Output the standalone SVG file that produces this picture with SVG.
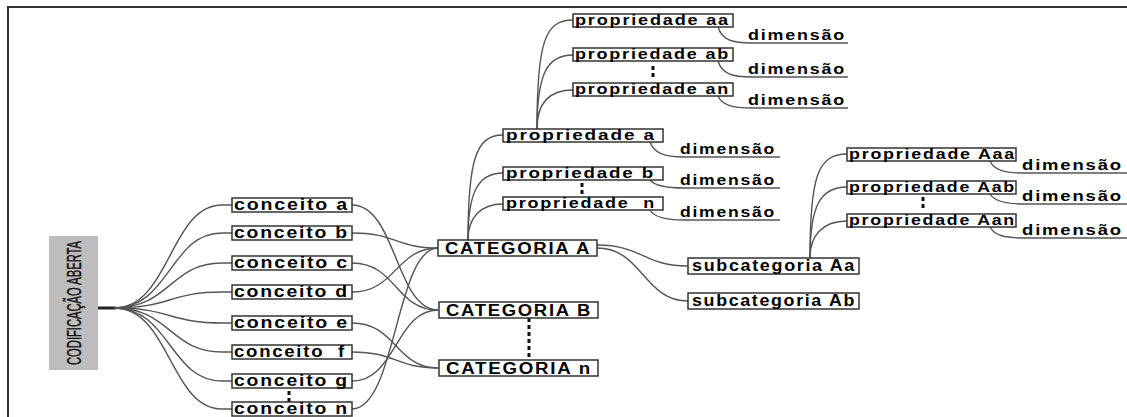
<svg xmlns="http://www.w3.org/2000/svg" width="1127" height="417" viewBox="0 0 1127 417">
  <style>
    .box { fill: #ffffff; stroke: #333333; stroke-width: 1.5; }
    .lbl { font-family: "Liberation Sans", Arial, sans-serif; font-weight: bold; fill: #000000; }
    .c { font-size: 16px; letter-spacing: 1.5px; }
    .cat { font-size: 16px; letter-spacing: 1.5px; }
    .p { font-size: 15px; letter-spacing: 1.5px; }
    .dim { font-family: "Liberation Sans", Arial, sans-serif; font-weight: bold; font-size: 15px; letter-spacing: 1.5px; fill: #000000; }
    .link { fill: none; stroke: #555555; stroke-width: 1.4; }
    .dots { fill: none; stroke: #111111; stroke-width: 3; stroke-dasharray: 4 3; }
    .frame { fill: none; stroke: #333333; stroke-width: 2; }
  </style>

  <!-- outer frame (top and left edges) -->
  <path class="frame" d="M8,417 L8,7 L1127,7"/>

  <g id="connectors">
    <!-- root trunk -->
    <path d="M98,308 L116,308" fill="none" stroke="#222" stroke-width="3"/>
    <!-- root to concepts -->
    <path class="link" d="M114,308 C170,308 170,205 222,205 L232,205"/>
    <path class="link" d="M114,308 C170,308 170,233 222,233 L232,233"/>
    <path class="link" d="M114,308 C170,308 170,263 222,263 L232,263"/>
    <path class="link" d="M114,308 C170,308 170,292 222,292 L232,292"/>
    <path class="link" d="M114,308 C170,308 170,323 222,323 L232,323"/>
    <path class="link" d="M114,308 C170,308 170,352 222,352 L232,352"/>
    <path class="link" d="M114,308 C170,308 170,381 222,381 L232,381"/>
    <path class="link" d="M114,308 C170,308 170,409 222,409 L232,409"/>

    <!-- concepts to categories -->
    <path class="link" d="M352,205 C396,205 396,310 438,310"/>
    <path class="link" d="M352,233 C396,233 396,248 438,248"/>
    <path class="link" d="M352,263 C396,263 396,310 438,310"/>
    <path class="link" d="M352,292 C396,292 396,248 438,248"/>
    <path class="link" d="M352,323 C396,323 396,368 438,368"/>
    <path class="link" d="M352,352 C396,352 396,368 438,368"/>
    <path class="link" d="M352,381 C396,381 396,310 438,310"/>
    <path class="link" d="M352,409 C396,409 396,248 438,248"/>

    <!-- CATEGORIA A to its properties -->
    <path class="link" d="M468,240 C468,160 476,135 503,135"/>
    <path class="link" d="M468,240 C468,192 478,173 503,173"/>
    <path class="link" d="M468,240 C468,218 480,204 503,204"/>

    <!-- propriedade a to its sub-properties -->
    <path class="link" d="M537,129 C537,42 545,20 573,20"/>
    <path class="link" d="M537,129 C537,72 548,55 573,55"/>
    <path class="link" d="M537,129 C537,102 550,90 573,90"/>

    <!-- CATEGORIA A to subcategories -->
    <path class="link" d="M597,245 C642,245 644,266 688,266"/>
    <path class="link" d="M597,248 C642,248 644,301 688,301"/>

    <!-- subcategoria Aa to its properties -->
    <path class="link" d="M810,258 C810,176 818,154 847,154"/>
    <path class="link" d="M810,258 C810,206 820,187 847,187"/>
    <path class="link" d="M810,258 C810,236 822,221 847,221"/>

    <!-- dimension underlines -->
    <path class="link" d="M718,27 C722,40 732,43 752,43 L848,43"/>
    <path class="link" d="M718,61 C722,74 732,77 752,77 L848,77"/>
    <path class="link" d="M718,96 C722,105 732,108 752,108 L848,108"/>

    <path class="link" d="M650,142 C654,153 664,157 684,157 L780,157"/>
    <path class="link" d="M650,180 C654,185 664,188 684,188 L780,188"/>
    <path class="link" d="M650,210 C654,217 664,220 684,220 L780,220"/>

    <path class="link" d="M990,161 C994,170 1004,173 1024,173 L1127,173"/>
    <path class="link" d="M990,194 C994,201 1004,204 1024,204 L1127,204"/>
    <path class="link" d="M990,227 C994,235 1004,238 1024,238 L1127,238"/>

    <!-- ellipsis markers -->
    <path class="dots" d="M289,391 L289,402"/>
    <path class="dots" d="M653,66 L653,80"/>
    <path class="dots" d="M582,183 L582,195"/>
    <path class="dots" d="M923,197 L923,211"/>
    <path class="dots" d="M529,318 L529,360" stroke-dasharray="5 3"/>
  </g>

  <g id="root">
    <rect x="49" y="236" width="49" height="134" fill="#bdbdbd"/>
    <text x="81" y="303" transform="rotate(-90 81 303)" text-anchor="middle" font-family="'Liberation Sans Narrow', 'Liberation Sans', Arial, sans-serif" font-size="20" fill="#111" stroke="#111" stroke-width="0.4" textLength="124" lengthAdjust="spacingAndGlyphs">CODIFICAÇÃO ABERTA</text>
  </g>

  <g id="conceito-a"><rect class="box" x="232" y="198" width="120" height="14"/><text class="lbl c" x="234" y="210" textLength="115" lengthAdjust="spacingAndGlyphs">conceito a</text></g>
  <g id="conceito-b"><rect class="box" x="232" y="226" width="120" height="14"/><text class="lbl c" x="234" y="238" textLength="115" lengthAdjust="spacingAndGlyphs">conceito b</text></g>
  <g id="conceito-c"><rect class="box" x="232" y="256" width="120" height="14"/><text class="lbl c" x="234" y="268" textLength="115" lengthAdjust="spacingAndGlyphs">conceito c</text></g>
  <g id="conceito-d"><rect class="box" x="232" y="285" width="120" height="14"/><text class="lbl c" x="234" y="297" textLength="115" lengthAdjust="spacingAndGlyphs">conceito d</text></g>
  <g id="conceito-e"><rect class="box" x="232" y="316" width="120" height="14"/><text class="lbl c" x="234" y="328" textLength="115" lengthAdjust="spacingAndGlyphs">conceito e</text></g>
  <g id="conceito-f"><rect class="box" x="232" y="345" width="120" height="14"/><text class="lbl c" x="234" y="357" textLength="112" lengthAdjust="spacingAndGlyphs" xml:space="preserve">conceito  f</text></g>
  <g id="conceito-g"><rect class="box" x="232" y="374" width="120" height="14"/><text class="lbl c" x="234" y="386" textLength="115" lengthAdjust="spacingAndGlyphs">conceito g</text></g>
  <g id="conceito-n"><rect class="box" x="232" y="402" width="120" height="14"/><text class="lbl c" x="234" y="414" textLength="115" lengthAdjust="spacingAndGlyphs">conceito n</text></g>

  <g id="categoria-a"><rect class="box" x="438" y="240" width="159" height="16"/><text class="lbl cat" x="445" y="254" textLength="146" lengthAdjust="spacingAndGlyphs">CATEGORIA A</text></g>
  <g id="categoria-b"><rect class="box" x="439" y="302" width="159" height="16"/><text class="lbl cat" x="446" y="316" textLength="146" lengthAdjust="spacingAndGlyphs">CATEGORIA B</text></g>
  <g id="categoria-n"><rect class="box" x="439" y="360" width="159" height="16"/><text class="lbl cat" x="446" y="374" textLength="146" lengthAdjust="spacingAndGlyphs">CATEGORIA n</text></g>

  <g id="propriedade-a"><rect class="box" x="503" y="129" width="160" height="13"/><text class="lbl p" x="506" y="140" textLength="150" lengthAdjust="spacingAndGlyphs">propriedade a</text></g>
  <g id="propriedade-b"><rect class="box" x="503" y="167" width="160" height="13"/><text class="lbl p" x="506" y="178" textLength="149" lengthAdjust="spacingAndGlyphs">propriedade b</text></g>
  <g id="propriedade-n"><rect class="box" x="503" y="197" width="160" height="13"/><text class="lbl p" x="506" y="208" textLength="150" lengthAdjust="spacingAndGlyphs" xml:space="preserve">propriedade  n</text></g>

  <g id="propriedade-aa"><rect class="box" x="573" y="14" width="160" height="13"/><text class="lbl p" x="575" y="25" textLength="155" lengthAdjust="spacingAndGlyphs">propriedade aa</text></g>
  <g id="propriedade-ab"><rect class="box" x="573" y="48" width="160" height="13"/><text class="lbl p" x="575" y="59" textLength="155" lengthAdjust="spacingAndGlyphs">propriedade ab</text></g>
  <g id="propriedade-an"><rect class="box" x="573" y="83" width="160" height="13"/><text class="lbl p" x="575" y="94" textLength="155" lengthAdjust="spacingAndGlyphs">propriedade an</text></g>

  <g id="subcategoria-aa"><rect class="box" x="688" y="258" width="171" height="16"/><text class="lbl c" x="692" y="271" textLength="164" lengthAdjust="spacingAndGlyphs">subcategoria Aa</text></g>
  <g id="subcategoria-ab"><rect class="box" x="688" y="293" width="171" height="16"/><text class="lbl c" x="692" y="306" textLength="164" lengthAdjust="spacingAndGlyphs">subcategoria Ab</text></g>

  <g id="propriedade-aaa"><rect class="box" x="847" y="148" width="169" height="13"/><text class="lbl p" x="849" y="159" textLength="167" lengthAdjust="spacingAndGlyphs">propriedade Aaa</text></g>
  <g id="propriedade-aab"><rect class="box" x="847" y="181" width="169" height="13"/><text class="lbl p" x="849" y="192" textLength="167" lengthAdjust="spacingAndGlyphs">propriedade Aab</text></g>
  <g id="propriedade-aan"><rect class="box" x="847" y="214" width="169" height="13"/><text class="lbl p" x="849" y="225" textLength="167" lengthAdjust="spacingAndGlyphs">propriedade Aan</text></g>

  <g id="dimensoes">
    <text class="dim" x="748" y="40" textLength="98" lengthAdjust="spacingAndGlyphs">dimensão</text>
    <text class="dim" x="748" y="74" textLength="98" lengthAdjust="spacingAndGlyphs">dimensão</text>
    <text class="dim" x="748" y="105" textLength="98" lengthAdjust="spacingAndGlyphs">dimensão</text>
    <text class="dim" x="680" y="154" textLength="96" lengthAdjust="spacingAndGlyphs">dimensão</text>
    <text class="dim" x="680" y="185" textLength="96" lengthAdjust="spacingAndGlyphs">dimensão</text>
    <text class="dim" x="680" y="217" textLength="96" lengthAdjust="spacingAndGlyphs">dimensão</text>
    <text class="dim" x="1022" y="170" textLength="101" lengthAdjust="spacingAndGlyphs">dimensão</text>
    <text class="dim" x="1022" y="201" textLength="101" lengthAdjust="spacingAndGlyphs">dimensão</text>
    <text class="dim" x="1022" y="235" textLength="101" lengthAdjust="spacingAndGlyphs">dimensão</text>
  </g>
</svg>
